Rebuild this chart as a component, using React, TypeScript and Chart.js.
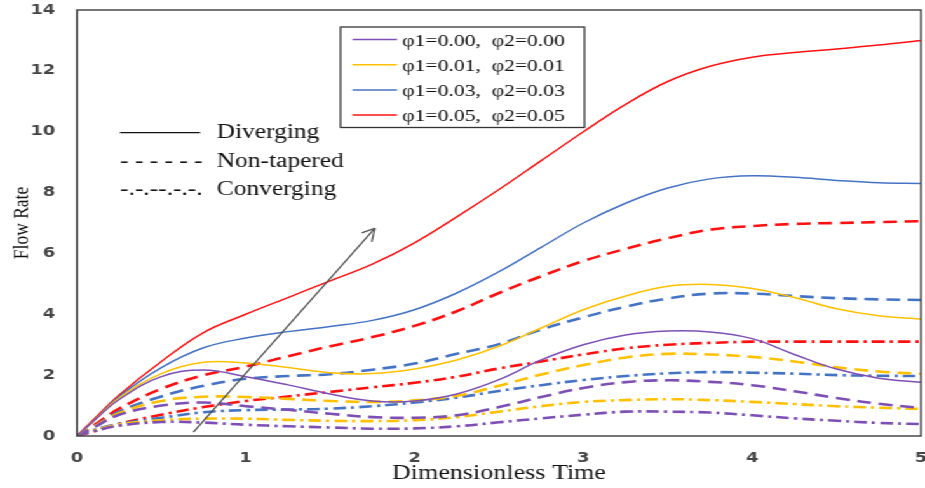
import React, { useEffect, useRef } from 'react';
import { Chart, registerables } from 'chart.js';

Chart.register(...registerables);

// ---------- data ----------
const T = [0, 0.1, 0.25, 0.5, 0.75, 1, 1.25, 1.5, 1.75, 2, 2.25, 2.5, 2.75, 3, 3.25, 3.5, 3.75, 4, 4.25, 4.5, 4.75, 5];

const divergingPhi000 = [0, 0.5, 1.2, 1.95, 2.17, 1.95, 1.68, 1.38, 1.15, 1.15, 1.38, 1.85, 2.5, 3.0, 3.32, 3.45, 3.42, 3.2, 2.68, 2.2, 1.9, 1.77];
const divergingPhi001 = [0, 0.5, 1.25, 2.05, 2.42, 2.4, 2.25, 2.08, 2.05, 2.2, 2.5, 2.95, 3.55, 4.15, 4.6, 4.92, 4.98, 4.85, 4.55, 4.18, 3.95, 3.84];
const divergingPhi003 = [0, 0.5, 1.3, 2.25, 2.9, 3.22, 3.43, 3.6, 3.8, 4.15, 4.7, 5.4, 6.2, 7.0, 7.65, 8.15, 8.45, 8.55, 8.5, 8.4, 8.32, 8.3];
const divergingPhi005 = [0, 0.55, 1.35, 2.45, 3.4, 4.0, 4.55, 5.1, 5.65, 6.35, 7.2, 8.1, 9.05, 10.0, 10.9, 11.65, 12.15, 12.45, 12.6, 12.72, 12.85, 13.0];

const nonTaperedPhi000 = [0, 0.28, 0.7, 1.0, 1.1, 0.98, 0.86, 0.73, 0.62, 0.6, 0.68, 0.95, 1.28, 1.58, 1.77, 1.83, 1.78, 1.67, 1.47, 1.25, 1.06, 0.92];
const nonTaperedPhi001 = [0, 0.3, 0.75, 1.15, 1.29, 1.28, 1.22, 1.15, 1.12, 1.17, 1.32, 1.65, 2.02, 2.33, 2.58, 2.7, 2.68, 2.6, 2.45, 2.26, 2.12, 2.04];
const nonTaperedPhi003 = [0, 0.3, 0.8, 1.3, 1.65, 1.88, 1.97, 2.03, 2.18, 2.38, 2.7, 3.02, 3.5, 3.9, 4.25, 4.52, 4.68, 4.68, 4.6, 4.53, 4.49, 4.47];
const nonTaperedPhi005 = [0, 0.35, 0.9, 1.55, 2.0, 2.28, 2.62, 2.95, 3.25, 3.62, 4.1, 4.7, 5.25, 5.75, 6.15, 6.5, 6.78, 6.9, 6.97, 7.0, 7.03, 7.06];

const convergingPhi000 = [0, 0.16, 0.34, 0.46, 0.44, 0.37, 0.32, 0.28, 0.24, 0.25, 0.32, 0.45, 0.58, 0.7, 0.8, 0.8, 0.77, 0.68, 0.58, 0.5, 0.43, 0.39];
const convergingPhi001 = [0, 0.18, 0.38, 0.52, 0.57, 0.57, 0.53, 0.5, 0.49, 0.52, 0.62, 0.8, 0.98, 1.12, 1.18, 1.21, 1.18, 1.12, 1.05, 0.98, 0.93, 0.89];
const convergingPhi003 = [0, 0.2, 0.4, 0.6, 0.78, 0.85, 0.87, 0.9, 0.98, 1.1, 1.26, 1.48, 1.67, 1.84, 1.97, 2.06, 2.1, 2.08, 2.05, 2.0, 1.98, 1.97];
const convergingPhi005 = [0, 0.15, 0.4, 0.7, 0.95, 1.15, 1.3, 1.45, 1.6, 1.75, 1.95, 2.22, 2.45, 2.68, 2.88, 3.0, 3.06, 3.1, 3.1, 3.1, 3.1, 3.1];

const phiLabels = ['φ1=0.00,  φ2=0.00', 'φ1=0.01,  φ2=0.01', 'φ1=0.03,  φ2=0.03', 'φ1=0.05,  φ2=0.05'];
const styleLabels = ['Diverging', 'Non-tapered', 'Converging'];
const styleSamples = ['', '- - - - - -', '-.-.--.-.-.'];
const X_MIN = 0, X_MAX = 5, X_STEP = 1;
const Y_MIN = 0, Y_MAX = 14, Y_STEP = 2;
const ARROW_FROM = [0.69, 0.13];
const ARROW_TO = [1.765, 6.83];

// ---------- styling ----------
const COLORS = ['#7D4FB5', '#FFC000', '#4472C4', '#FF1010'];
const SX = 925 / 728; // horizontal stretch of the original picture
const W = 728, H = 488;
const SERIF = '"Liberation Serif", "Times New Roman", serif';
const SANS = '"DejaVu Sans", Verdana, sans-serif';

const groups = [
  { name: 'Diverging', series: [divergingPhi000, divergingPhi001, divergingPhi003, divergingPhi005], dash: [] as number[], width: 1.5 },
  { name: 'Non-tapered', series: [nonTaperedPhi000, nonTaperedPhi001, nonTaperedPhi003, nonTaperedPhi005], dash: [11, 6], width: 2.6 },
  { name: 'Converging', series: [convergingPhi000, convergingPhi001, convergingPhi003, convergingPhi005], dash: [10, 4, 2.5, 4], width: 2.6 },
];

const decoPlugin = {
  id: 'deco',
  afterDatasetsDraw(chart: any) {
    const { ctx, chartArea: a, scales } = chart;
    const xs = scales.x, ys = scales.y;
    ctx.save();
    // plot frame
    ctx.strokeStyle = '#3c3c3c';
    ctx.lineWidth = 1.4;
    ctx.setLineDash([]);
    ctx.strokeRect(a.left, a.top, a.right - a.left, a.bottom - a.top);

    // arrow
    const x0 = xs.getPixelForValue(ARROW_FROM[0]);
    const y0 = ys.getPixelForValue(ARROW_FROM[1]);
    const x1 = xs.getPixelForValue(ARROW_TO[0]);
    const y1 = ys.getPixelForValue(ARROW_TO[1]);
    ctx.strokeStyle = '#4a4a4a';
    ctx.lineWidth = 1.2;
    ctx.beginPath();
    ctx.moveTo(x0, y0);
    ctx.lineTo(x1, y1);
    ctx.stroke();
    const ang = Math.atan2(y1 - y0, (x1 - x0) * SX);
    const L = 14;
    ctx.beginPath();
    for (const d of [-0.5, 0.5]) {
      const a2 = ang + Math.PI + d;
      ctx.moveTo(x1 + (L * Math.cos(a2)) / SX, y1 + L * Math.sin(a2));
      ctx.lineTo(x1, y1);
    }
    ctx.stroke();

    // colour legend box
    const bx = 268, by = 27, bw = 192, bh = 100.5;
    ctx.fillStyle = '#ffffff';
    ctx.fillRect(bx, by, bw, bh);
    ctx.strokeStyle = '#333333';
    ctx.lineWidth = 1.3;
    ctx.strokeRect(bx, by, bw, bh);
    ctx.font = `17px ${SERIF}`;
    ctx.textBaseline = 'alphabetic';
    ctx.textAlign = 'left';
    phiLabels.forEach((lab, i) => {
      const ly = 39.5 + i * 25.2;
      ctx.strokeStyle = COLORS[i];
      ctx.lineWidth = 1.5;
      ctx.beginPath();
      ctx.moveTo(277.5, ly);
      ctx.lineTo(312.5, ly);
      ctx.stroke();
      ctx.fillStyle = '#111111';
      ctx.fillText(lab, 316.5, ly + 6);
    });

    // line-style legend
    ctx.font = `20px ${SERIF}`;
    styleLabels.forEach((lab, i) => {
      const base = 138 + i * 28.5;
      ctx.fillStyle = '#111111';
      if (i === 0) {
        ctx.strokeStyle = '#111111';
        ctx.lineWidth = 1.2;
        ctx.beginPath();
        ctx.moveTo(94.5, base - 5.3);
        ctx.lineTo(157.5, base - 5.3);
        ctx.stroke();
      } else {
        ctx.fillText(styleSamples[i], 94.5, base);
      }
      ctx.fillText(lab, 170.6, base);
    });
    ctx.restore();
  },
};

export default function App() {
  const ref = useRef<HTMLCanvasElement | null>(null);

  useEffect(() => {
    document.body.style.margin = '0';
    document.body.style.overflow = 'hidden';
    const canvas = ref.current;
    if (!canvas) return;
    const datasets: any[] = [];
    groups.forEach((g) => {
      g.series.forEach((vals, i) => {
        datasets.push({
          label: `${g.name} ${phiLabels[i]}`,
          data: T.map((t, k) => ({ x: t, y: vals[k] })),
          borderColor: COLORS[i],
          backgroundColor: COLORS[i],
          borderWidth: g.width,
          borderDash: g.dash,
          pointRadius: 0,
          fill: false,
          tension: 0.4,
        });
      });
    });

    const chart = new Chart(canvas, {
      type: 'line',
      data: { datasets },
      options: {
        animation: false,
        responsive: false,
        devicePixelRatio: 1,
        layout: { padding: { left: 0, right: W - 921 / SX, top: 10, bottom: 0 } },
        plugins: { legend: { display: false }, tooltip: { enabled: false } },
        scales: {
          x: {
            type: 'linear',
            min: X_MIN,
            max: X_MAX,
            grid: { display: false, drawTicks: false },
            border: { display: false },
            ticks: {
              stepSize: X_STEP,
              padding: 14,
              color: '#454545',
              font: { family: SANS, size: 14, weight: 'bold' },
            },
            title: {
              display: true,
              text: 'Dimensionless Time',
              color: '#111111',
              font: { family: SERIF, size: 20.5 },
              padding: { top: 0, bottom: 2 },
            },
            afterFit: (s: any) => {
              s.height = 52;
              s.paddingLeft = 0;
              s.paddingRight = 0;
            },
          },
          y: {
            type: 'linear',
            min: Y_MIN,
            max: Y_MAX,
            grid: { display: false, drawTicks: false },
            border: { display: false },
            ticks: {
              stepSize: Y_STEP,
              padding: 17,
              color: '#454545',
              font: { family: SANS, size: 14, weight: 'bold' },
            },
            title: {
              display: true,
              text: 'Flow Rate',
              color: '#111111',
              font: { family: SERIF, size: 17.5 },
              padding: { top: 7, bottom: 0 },
            },
            afterFit: (s: any) => {
              s.width = 77 / SX;
              s.paddingTop = 0;
              s.paddingBottom = 0;
            },
          },
        },
      },
      plugins: [decoPlugin],
    });
    return () => chart.destroy();
  }, []);

  return (
    <div
      style={{
        position: 'absolute',
        left: 0,
        top: 0,
        width: W,
        height: H,
        transform: `scale(${SX}, 1)`,
        transformOrigin: '0 0',
        background: '#ffffff',
      }}
    >
      <canvas ref={ref} width={W} height={H} style={{ display: 'block', width: W, height: H }} />
    </div>
  );
}
